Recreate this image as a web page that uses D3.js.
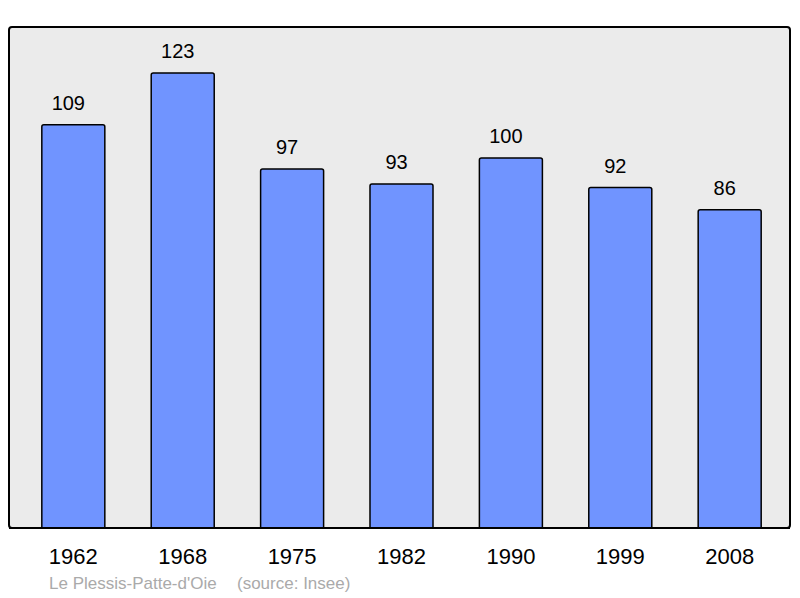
<!DOCTYPE html>
<html>
<head>
<meta charset="utf-8">
<script src="https://cdn.jsdelivr.net/npm/d3@7"></script>
<style>
  body { margin: 0; background: #fff; }
  text { font-family: "Liberation Sans", Arial, sans-serif; }
</style>
</head>
<body>
<div id="chart"></div>
<script>
'use strict'

var years = ['1962', '1968', '1975', '1982', '1990', '1999', '2008'];
var population = [109, 123, 97, 93, 100, 92, 86];
var commune = 'Le Plessis-Patte-d\'Oie';
var source = '(source: Insee)';

(function() {
  var width = 800, height = 598;
  var frame = { left: 9, top: 27, right: 790, bottom: 528 };

  var svg = d3.select('#chart').append('svg')
    .attr('width', width)
    .attr('height', height);

  svg.append('rect')
    .attr('x', frame.left)
    .attr('y', frame.top)
    .attr('width', frame.right - frame.left)
    .attr('height', frame.bottom - frame.top)
    .attr('rx', 3)
    .attr('fill', '#ebebeb')
    .attr('stroke', '#000')
    .attr('stroke-width', 2);

  var x = d3.scaleBand()
    .domain(years)
    .range([9, 794])
    .paddingInner(0.424)
    .paddingOuter(0.3);

  var y = d3.scaleLinear()
    .domain([0, 135.4])
    .range([frame.bottom, frame.top]);

  var bars = svg.append('g');
  bars.selectAll('path')
    .data(population)
    .enter()
    .append('path')
    .attr('d', function(d, i) {
      var x0 = x(years[i]), x1 = x0 + x.bandwidth();
      var top = y(d), bot = y(0), r = 2;
      return 'M' + x0 + ',' + bot + 'V' + (top + r) +
        'Q' + x0 + ',' + top + ' ' + (x0 + r) + ',' + top +
        'H' + (x1 - r) +
        'Q' + x1 + ',' + top + ' ' + x1 + ',' + (top + r) +
        'V' + bot;
    })
    .attr('fill', '#7094ff')
    .attr('stroke', '#000')
    .attr('stroke-width', 1.5);

  // value labels sit a little left of the bar centre in the original
  svg.append('g').selectAll('text')
    .data(population)
    .enter()
    .append('text')
    .attr('x', function(d, i) { return x(years[i]) + x.bandwidth() / 2 - 5; })
    .attr('y', function(d) { return y(d) - 15; })
    .attr('text-anchor', 'middle')
    .attr('font-size', 20)
    .attr('fill', '#000')
    .text(function(d) { return d; });

  // bottom line drawn over the bars
  svg.append('line')
    .attr('x1', frame.left)
    .attr('x2', frame.right)
    .attr('y1', frame.bottom)
    .attr('y2', frame.bottom)
    .attr('stroke', '#000')
    .attr('stroke-width', 2);

  var xAxis = d3.axisBottom(x).tickSize(0).tickPadding(0);
  var gx = svg.append('g')
    .attr('transform', 'translate(0,' + frame.bottom + ')')
    .call(xAxis);
  gx.select('.domain').remove();
  gx.selectAll('text')
    .attr('y', 36)
    .attr('dy', 0)
    .attr('font-size', 22)
    .attr('font-family', '"Liberation Sans", Arial, sans-serif')
    .attr('fill', '#000');

  svg.append('text')
    .attr('x', 49)
    .attr('y', 589)
    .attr('font-size', 17)
    .attr('fill', '#aaa')
    .text(commune);

  svg.append('text')
    .attr('x', 237)
    .attr('y', 589)
    .attr('font-size', 17)
    .attr('fill', '#aaa')
    .text(source);
})();
</script>
</body>
</html>
